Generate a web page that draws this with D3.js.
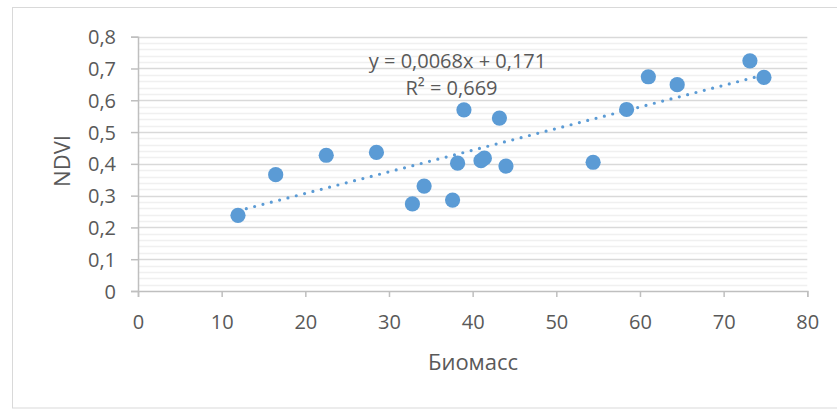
<!DOCTYPE html>
<html><head><meta charset="utf-8">
<script src="https://cdn.jsdelivr.net/npm/d3@7"></script>
<style>
html,body{margin:0;padding:0;background:#fff;}
svg{display:block;}
text{font-family:"Open Sans",sans-serif;fill:#595959;}
</style></head>
<body><svg id="c" width="837" height="410"></svg>
<script>
const biomass = [11.95,16.46,22.5,28.5,32.8,34.2,37.6,38.2,38.96,41.0,41.4,43.2,43.98,54.4,58.4,61.0,64.45,73.14,74.82];
const ndvi    = [0.238,0.366,0.427,0.436,0.274,0.330,0.286,0.402,0.570,0.410,0.418,0.544,0.393,0.405,0.571,0.674,0.649,0.724,0.672];
const xTicks = [0,10,20,30,40,50,60,70,80];
const yTicks = [0,0.1,0.2,0.3,0.4,0.5,0.6,0.7,0.8];
const trendSlope = 0.0068, trendIntercept = 0.171;
const eqText = "y = 0,0068x + 0,171";
const r2Text = "R² = 0,669";
const xTitle = "Биомасс", yTitle = "NDVI";

const svg = d3.select("#c");
const fmt = d => String(d).replace(".", ",");
const x = d3.scaleLinear().domain([0,80]).range([138,807.3]);
const y = d3.scaleLinear().domain([0,0.8]).range([291,36.7]);

// chart border
svg.append("rect").attr("x",12.5).attr("y",7.5).attr("width",850).attr("height",400.5)
  .attr("fill","none").attr("stroke","#d9d9d9").attr("stroke-width",1);

// minor gridlines
const minor = d3.range(0,0.8001,0.02).filter(v => Math.abs(v*10 - Math.round(v*10))>1e-6);
svg.append("g").selectAll("line").data(minor).join("line")
  .attr("x1",x(0)).attr("x2",x(80)).attr("y1",d=>Math.round(y(d))+0.5).attr("y2",d=>Math.round(y(d))+0.5)
  .attr("stroke","#f0f0f0").attr("stroke-width",1.5);
// major gridlines
svg.append("g").selectAll("line").data(yTicks.slice(1)).join("line")
  .attr("x1",x(0)).attr("x2",x(80)).attr("y1",d=>Math.round(y(d))+0.5).attr("y2",d=>Math.round(y(d))+0.5)
  .attr("stroke","#d9d9d9").attr("stroke-width",1.5);

// axes
const xa = svg.append("g").attr("transform",`translate(0,${y(0)})`)
  .call(d3.axisBottom(x).tickValues(xTicks).tickFormat(fmt).tickSize(6).tickPadding(14));
const ya = svg.append("g").attr("transform",`translate(${x(0)},0)`)
  .call(d3.axisLeft(y).tickValues(yTicks).tickFormat(fmt).tickSize(7).tickPadding(15));
[xa,ya].forEach(a=>{
  a.select(".domain").attr("stroke","#bfbfbf").attr("stroke-width",1.5);
  a.selectAll(".tick line").attr("stroke","#bfbfbf").attr("stroke-width",1.5);
  a.selectAll(".tick text").attr("fill","#595959").attr("font-size",20).attr("font-family","Open Sans");
});
xa.selectAll(".tick text").attr("dy","0.9em");
ya.selectAll(".tick text").attr("dy","0.35em");

// trendline
const xmin = d3.min(biomass), xmax = d3.max(biomass);
svg.append("line")
  .attr("x1",x(xmin)).attr("y1",y(trendSlope*xmin+trendIntercept))
  .attr("x2",x(xmax)).attr("y2",y(trendSlope*xmax+trendIntercept))
  .attr("stroke","#5b9bd5").attr("stroke-width",3.2).attr("stroke-linecap","round")
  .attr("stroke-dasharray","0 8.6");

// points
svg.append("g").selectAll("circle").data(biomass).join("circle")
  .attr("cx",(d)=>x(d)).attr("cy",(d,i)=>y(ndvi[i])).attr("r",7.6)
  .attr("fill","#5b9bd5");

// equation labels
svg.append("text").attr("x",457.5).attr("y",68).attr("text-anchor","middle").attr("font-size",20).text(eqText);
svg.append("text").attr("x",451.5).attr("y",95).attr("text-anchor","middle").attr("font-size",20).text(r2Text);

// axis titles
svg.append("text").attr("x",473).attr("y",369.5).attr("text-anchor","middle").attr("font-size",22).text(xTitle);
svg.append("text").attr("transform","translate(70,161) rotate(-90)").attr("text-anchor","middle").attr("font-size",22).text(yTitle);
</script>
</body></html>
